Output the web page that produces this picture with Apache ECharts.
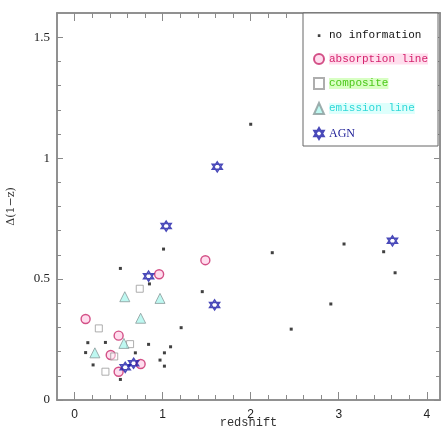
<!DOCTYPE html>
<html>
<head>
<meta charset="utf-8">
<script src="https://cdn.jsdelivr.net/npm/echarts@6/dist/echarts.min.js"></script>
<style>
  html, body { margin: 0; padding: 0; background: #fff; }
  #chart { width: 444px; height: 434px; }
</style>
</head>
<body>
<div id="chart"></div>
<script>
// points: [redshift, delta]
const noInfo = [
    [2.00, 1.14], [1.01, 0.624], [2.245, 0.609], [3.06, 0.645], [3.51, 0.613],
    [3.64, 0.526], [0.85, 0.48], [1.45, 0.448], [2.91, 0.397], [1.21, 0.299],
    [2.46, 0.293], [1.09, 0.22], [0.52, 0.544], [0.15, 0.237], [0.35, 0.238],
    [0.84, 0.23], [0.125, 0.196], [0.69, 0.195], [1.02, 0.195], [0.21, 0.145],
    [0.97, 0.165], [1.02, 0.14], [0.52, 0.085]
];
const absorption = [
    [1.485, 0.578], [0.96, 0.52], [0.125, 0.335], [0.50, 0.266],
    [0.41, 0.186], [0.75, 0.149], [0.50, 0.117]
];
const composite = [
    [0.74, 0.46], [0.275, 0.296], [0.63, 0.231], [0.45, 0.18], [0.35, 0.117]
];
const emission = [
    [0.57, 0.427], [0.97, 0.42], [0.75, 0.338], [0.56, 0.234], [0.23, 0.195]
];
const agn = [
    [1.62, 0.964], [1.04, 0.719], [3.61, 0.658], [0.84, 0.512],
    [1.59, 0.393], [0.67, 0.152], [0.575, 0.135]
];

const xMajor = [0, 1, 2, 3, 4];
const xMinor = [0.2, 0.4, 0.6, 0.8, 1.2, 1.4, 1.6, 1.8, 2.2, 2.4, 2.6, 2.8, 3.2, 3.4, 3.6, 3.8];
const yMajor = [0, 0.5, 1, 1.5];
const yMinor = [0.1, 0.2, 0.3, 0.4, 0.6, 0.7, 0.8, 0.9, 1.1, 1.2, 1.3, 1.4];

const hexagram = 'path://M0,-10 L8.66,5 L-8.66,5 Z M0,10 L-8.66,-5 L8.66,-5 Z';
// tiny dot inside an empty 10x10 box so the legend keeps it small
const dotIcon = 'path://M0,0L0.01,0M10,10L10.01,10M3.8,3.8h2.6v2.6h-2.6Z';
const frameColor = '#8a8a8a';

let myChart = echarts.init(document.getElementById('chart'));

// one axis per tick length and side, all sharing the same range
let makeX = function (pos, ticks, len, withLabels) {
    return {
        type: 'value',
        position: pos,
        min: -0.2,
        max: 4.15,
        splitLine: {show: false},
        axisLine: {show: true, onZero: false, lineStyle: {color: frameColor, width: 1.5}},
        axisTick: {show: true, inside: true, length: len, customValues: ticks, lineStyle: {color: frameColor}},
        axisLabel: withLabels ? {
            show: true, customValues: xMajor, margin: 9,
            fontFamily: 'Liberation Sans', fontSize: 12, color: '#222'
        } : {show: false}
    };
};
let makeY = function (pos, ticks, len, withLabels) {
    return {
        type: 'value',
        position: pos,
        min: 0,
        max: 1.6,
        splitLine: {show: false},
        axisLine: {show: true, onZero: false, lineStyle: {color: frameColor, width: 1.5}},
        axisTick: {show: true, inside: true, length: len, customValues: ticks, lineStyle: {color: frameColor}},
        axisLabel: withLabels ? {
            show: true, customValues: yMajor, margin: 7,
            fontFamily: 'Liberation Serif', fontSize: 13, color: '#222'
        } : {show: false}
    };
};

let xAxes = [
    makeX('bottom', xMajor, 8, true),
    makeX('bottom', xMinor, 5, false),
    makeX('top', xMajor, 8, false),
    makeX('top', xMinor, 5, false)
];
xAxes[0].name = 'redshift';
xAxes[0].nameLocation = 'middle';
xAxes[0].nameGap = 17;
xAxes[0].nameMoveOverlap = false;
xAxes[0].nameTextStyle = {fontFamily: 'Liberation Mono', fontSize: 12, color: '#333'};

let yAxes = [
    makeY('left', yMajor, 6, true),
    makeY('left', yMinor, 4, false),
    makeY('right', yMajor, 6, false),
    makeY('right', yMinor, 4, false)
];
yAxes[0].name = 'Δ(1−z)';
yAxes[0].nameLocation = 'middle';
yAxes[0].nameGap = 40;
yAxes[0].nameMoveOverlap = false;
yAxes[0].nameTextStyle = {fontFamily: 'DejaVu Serif', fontSize: 11, color: '#333'};

let option = {
    animation: false,
    backgroundColor: '#fff',
    grid: {left: 57, top: 13, right: 4, bottom: 34, outerBoundsMode: 'none'},
    xAxis: xAxes,
    yAxis: yAxes,
    legend: {
        orient: 'vertical',
        left: 303,
        top: 13,
        padding: [17, 10, 6, 10],
        itemGap: 12,
        itemWidth: 10,
        itemHeight: 11,
        backgroundColor: '#fff',
        borderColor: '#666',
        borderWidth: 1,
        textStyle: {fontFamily: 'Liberation Mono', fontSize: 11},
        data: [
            {name: 'no information', icon: dotIcon, textStyle: {color: '#111'}},
            {name: 'absorption line', textStyle: {color: '#d41f6c', backgroundColor: 'rgba(255,200,225,0.6)'}},
            {name: 'composite', textStyle: {color: '#4cc81a', backgroundColor: 'rgba(200,255,170,0.7)'}},
            {name: 'emission line', textStyle: {color: '#30d8d8', backgroundColor: 'rgba(200,255,250,0.6)'}},
            {name: 'AGN', textStyle: {color: '#1c1c96', fontFamily: 'Liberation Serif', fontSize: 12}}
        ]
    },
    series: [
        {
            name: 'no information',
            type: 'scatter',
            symbol: 'rect',
            symbolSize: 3,
            itemStyle: {color: '#111'},
            data: noInfo
        },
        {
            name: 'absorption line',
            type: 'scatter',
            symbol: 'circle',
            symbolSize: 9,
            itemStyle: {color: 'rgba(255,205,230,0.85)', borderColor: '#c8286a', borderWidth: 1.4},
            data: absorption
        },
        {
            name: 'composite',
            type: 'scatter',
            symbol: 'rect',
            symbolSize: 7,
            itemStyle: {color: 'rgba(255,255,255,0.6)', borderColor: '#9a9a9a', borderWidth: 1},
            data: composite
        },
        {
            name: 'emission line',
            type: 'scatter',
            symbol: 'triangle',
            symbolSize: 10,
            itemStyle: {color: 'rgba(160,245,235,0.85)', borderColor: '#8a9a9a', borderWidth: 1},
            data: emission
        },
        {
            name: 'AGN',
            type: 'scatter',
            symbol: hexagram,
            symbolSize: 10,
            itemStyle: {color: 'rgba(255,255,255,0)', borderColor: '#1c1ca8', borderWidth: 1.5},
            data: agn
        }
    ]
};

myChart.setOption(option);
</script>
</body>
</html>
